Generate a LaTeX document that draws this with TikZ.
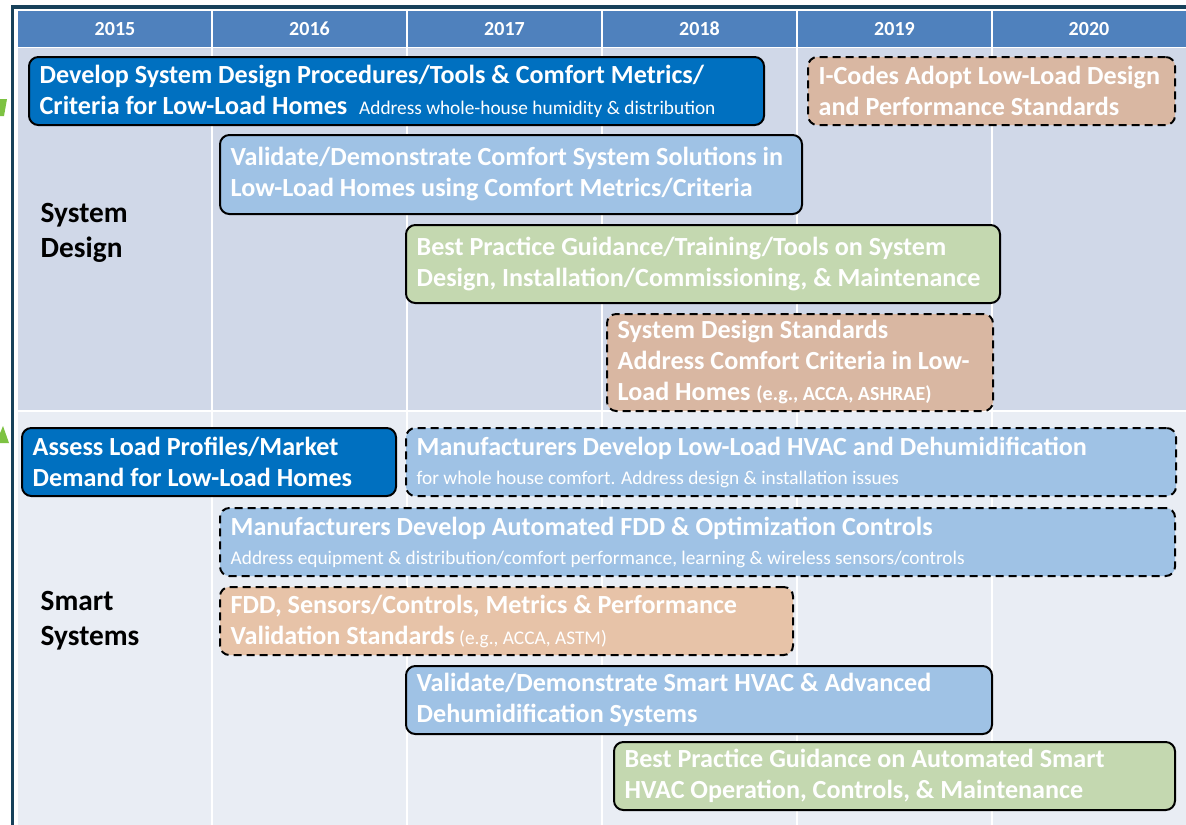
\documentclass[tikz,border=0pt]{standalone}
\usepackage{fontspec}
\setmainfont{Carlito}
\definecolor{frame}{HTML}{17415A}
\definecolor{hdr}{HTML}{4F81BD}
\definecolor{secA}{HTML}{D0D8E8}
\definecolor{secB}{HTML}{E9EDF4}
\definecolor{dblue}{HTML}{0070C0}
\definecolor{lblue}{HTML}{9FC2E5}
\definecolor{tanA}{HTML}{D9B7A2}
\definecolor{tanB}{HTML}{E7C3A8}
\definecolor{lgreen}{HTML}{C4D8B0}
\definecolor{arrgreen}{HTML}{7DC242}
\newcommand\bigf{\fontsize{19.6}{23.25}\selectfont\bfseries}
\newcommand\smf{\fontsize{14.5}{17}\selectfont\mdseries}
\newcommand\mbx[1]{\mbox{#1}}
\newcommand\tbox[7]{%
  \pgfmathsetmacro\bw{(#5-#3)*0.75}%
  \pgfmathsetmacro\bh{(#6-#4)*0.75}%
  \pgfmathsetmacro\tw{\bw-16}%
  \node[#2, minimum width=\bw pt, minimum height=\bh pt, text width=\tw pt] (#1) at (#3,#4) {#7};}
\begin{document}
\begin{tikzpicture}[x=0.75pt,y=-0.75pt,
  box/.style={draw=black, line width=1.5pt, rounded corners=7pt, text=white,
    inner xsep=8pt, inner ysep=0pt, align=flush left, anchor=north west, font=\bigf},
  dbox/.style={box, dash pattern=on 6pt off 3.75pt},
  year/.style={text=white, font=\fontsize{15}{17}\selectfont\bfseries},
  sect/.style={text=black, align=flush left, anchor=west, font=\fontsize{22}{26}\selectfont\bfseries},
  sep/.style={draw=white, line width=1.2pt}]
\useasboundingbox (0,0) rectangle (1186,825);
\fill[white] (0,0) rectangle (1186,825);
% green arrow fragments at left
\fill[arrgreen] (0,99) -- (7,99) -- (4,116) -- (0,116) -- cycle;
\fill[arrgreen] (-4,443) -- (3,426) -- (9,443) -- cycle;
% frame
\draw[frame, line width=2.5pt] (12.5,830) -- (12.5,7) -- (1190,7);
% backgrounds
\fill[hdr] (18,11) rectangle (1186,47);
\fill[secA] (18,48) rectangle (1186,410);
\fill[secB] (18,412) rectangle (1186,825);
\foreach \xx in {212,407,602,797,992} \draw[sep] (\xx,11) -- (\xx,825);
\draw[sep] (18,47.5) -- (1186,47.5);
\draw[sep] (18,411) -- (1186,411);
% years
\node[year] (y2015) at (115,29) {2015};
\node[year] (y2016) at (309.5,29) {2016};
\node[year] (y2017) at (504.5,29) {2017};
\node[year] (y2018) at (699.5,29) {2018};
\node[year] (y2019) at (894.5,29) {2019};
\node[year] (y2020) at (1089,29) {2020};
% section labels
\node[sect] (sd) at (36,233) {System\\Design};
\node[sect] (ss) at (36,621) {Smart\\Systems};
% System design boxes
\tbox{b1}{box, fill=dblue}{28}{56}{763}{124}{\mbx{Develop System Design Procedures/Tools \& Comfort Metrics/}\\\mbx{Criteria for Low-Load Homes\ \ {\smf Address whole-house humidity \& distribution}}}
\tbox{b2}{dbox, fill=tanA}{807}{56}{1174}{124}{\mbx{I-Codes Adopt Low-Load Design}\\\mbx{and Performance Standards}}
\tbox{b3}{box, fill=lblue}{219}{134}{801}{213}{\mbx{Validate/Demonstrate Comfort System Solutions in}\\\mbx{Low-Load Homes using Comfort Metrics/Criteria}}
\tbox{b4}{box, fill=lgreen}{405}{224}{999}{302}{\mbx{Best Practice Guidance/Training/Tools on System}\\\mbx{Design, Installation/Commissioning, \& Maintenance}}
\tbox{b5}{dbox, fill=tanA}{606}{313}{992}{410}{\mbx{System Design Standards}\\\mbx{Address Comfort Criteria in Low-}\\\mbx{Load Homes {\fontsize{15}{17}\selectfont (e.g., ACCA, ASHRAE)}}}
% Smart systems boxes
\tbox{b6}{box, fill=dblue}{21}{427}{395}{495}{\mbx{Assess Load Profiles/Market}\\\mbx{Demand for Low-Load Homes}}
\tbox{b7}{dbox, fill=lblue}{405}{427}{1175}{495}{\vspace*{2pt}\mbx{Manufacturers Develop Low-Load HVAC and Dehumidification}\\[-3.5pt]\mbx{\smf for whole house comfort. Address design \& installation issues}}
\tbox{b8}{dbox, fill=lblue}{219}{507}{1174}{575}{\vspace*{2pt}\mbx{Manufacturers Develop Automated FDD \& Optimization Controls}\\[-3.5pt]\mbx{\smf Address equipment \& distribution/comfort performance, learning \& wireless sensors/controls}}
\tbox{b9}{dbox, fill=tanB}{219}{586}{792}{654}{\mbx{FDD, Sensors/Controls, Metrics \& Performance}\\\mbx{Validation Standards{\fontsize{14.5}{17}\selectfont\mdseries\ (e.g., ACCA, ASTM)}}}
\tbox{b10}{box, fill=lblue}{405}{665}{991}{733}{\mbx{Validate/Demonstrate Smart HVAC \& Advanced}\\\mbx{Dehumidification Systems}}
\tbox{b11}{box, fill=lgreen}{613}{741}{1174}{809}{\mbx{Best Practice Guidance on Automated Smart}\\\mbx{HVAC Operation, Controls, \& Maintenance}}
\end{tikzpicture}
\end{document}
